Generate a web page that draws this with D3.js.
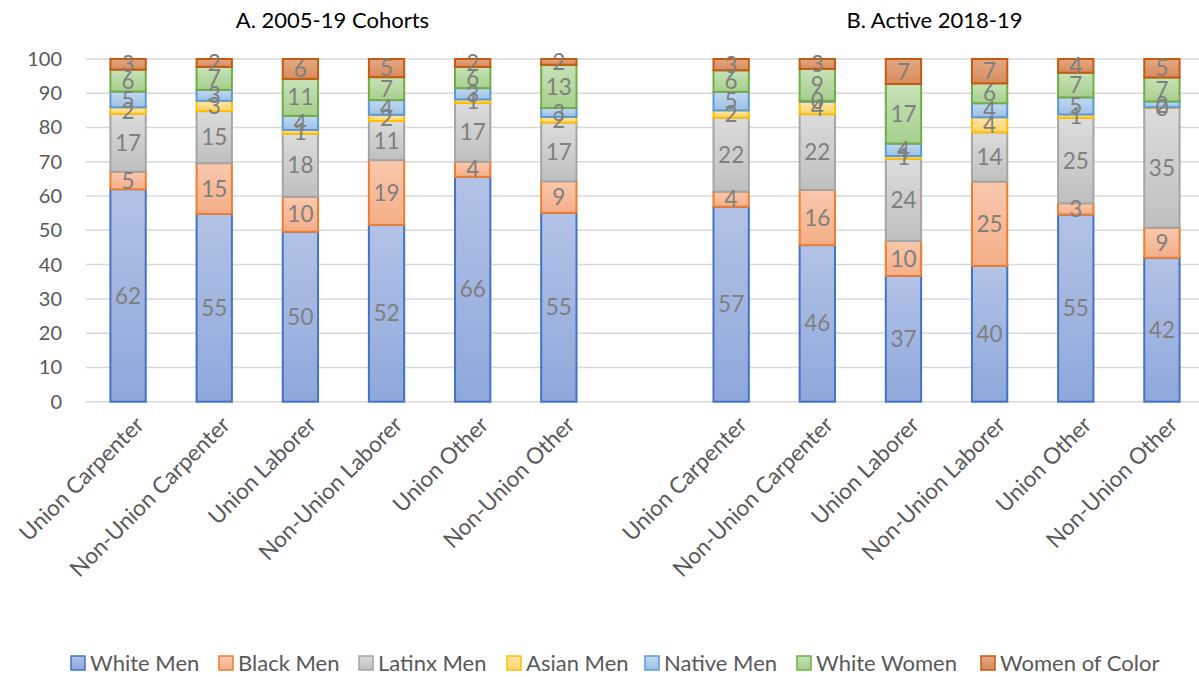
<!DOCTYPE html>
<html>
<head>
<meta charset="utf-8">
<script src="https://cdn.jsdelivr.net/npm/d3@7"></script>
<style>
  html, body { margin: 0; padding: 0; background: #fff; }
  svg { display: block; font-family: Lato, "Open Sans", sans-serif; }
</style>
</head>
<body>
<svg id="chart" width="1199" height="677"></svg>
<script>
// Workforce composition (%) by group, two panels of six categories each
const categories = ["Union Carpenter", "Non-Union Carpenter", "Union Laborer", "Non-Union Laborer", "Union Other", "Non-Union Other"];
const panelTitles = ["A. 2005-19 Cohorts", "B. Active 2018-19"];
const seriesNames = ["White Men", "Black Men", "Latinx Men", "Asian Men", "Native Men", "White Women", "Women of Color"];

// Panel A: 2005-19 cohorts, one array per series (in category order)
const cohortWhiteMen     = [62.0, 54.8, 49.6, 51.6, 65.6, 55.1];
const cohortBlackMen     = [5.1, 14.8, 10.2, 18.9, 4.4, 9.2];
const cohortLatinxMen    = [16.9, 15.2, 18.4, 11.4, 17.2, 17.2];
const cohortAsianMen     = [1.9, 3.0, 1.1, 1.8, 1.0, 1.6];
const cohortNativeMen    = [4.6, 3.2, 4.1, 4.3, 3.3, 2.6];
const cohortWhiteWomen   = [6.4, 6.7, 10.8, 6.7, 6.2, 12.6];
const cohortWomenOfColor = [3.1, 2.3, 5.8, 5.3, 2.3, 1.7];

// Panel B: active 2018-19
const activeWhiteMen     = [56.9, 45.7, 36.7, 39.6, 54.6, 42.0];
const activeBlackMen     = [4.4, 16.1, 10.2, 24.6, 3.3, 8.8];
const activeLatinxMen    = [21.6, 22.1, 24.0, 14.4, 24.9, 34.9];
const activeAsianMen     = [2.1, 3.6, 0.8, 4.4, 1.0, 0.2];
const activeNativeMen    = [5.4, 0.3, 3.6, 4.1, 5.0, 1.7];
const activeWhiteWomen   = [6.3, 9.3, 17.4, 5.8, 7.2, 7.0];
const activeWomenOfColor = [3.3, 2.9, 7.3, 7.1, 4.0, 5.4];

const yTicks = [0, 10, 20, 30, 40, 50, 60, 70, 80, 90, 100];

// Series styling: outline, and gradient from top to bottom of each segment
const seriesStyle = [
  { stroke: "#4472c4", top: "#b3c2e6", bottom: "#8ea8db" },
  { stroke: "#ed7d31", top: "#f9c9ad", bottom: "#f4ae88" },
  { stroke: "#a5a5a5", top: "#dcdcdc", bottom: "#bfbfbf" },
  { stroke: "#ffc000", top: "#ffe6a6", bottom: "#ffd46b" },
  { stroke: "#5b9bd5", top: "#c2d9f0", bottom: "#9dc1e6" },
  { stroke: "#70ad47", top: "#c8e2b8", bottom: "#a6cf8c" },
  { stroke: "#c55a11", top: "#e3a883", bottom: "#d88b5c" }
];

const panelA = [cohortWhiteMen, cohortBlackMen, cohortLatinxMen, cohortAsianMen, cohortNativeMen, cohortWhiteWomen, cohortWomenOfColor];
const panelB = [activeWhiteMen, activeBlackMen, activeLatinxMen, activeAsianMen, activeNativeMen, activeWhiteWomen, activeWomenOfColor];

// Build rows: six A columns, a blank spacer slot, six B columns
const rows = [];
categories.forEach((c, i) => {
  const r = { key: "A" + i, label: c };
  seriesNames.forEach((s, k) => r[s] = panelA[k][i]);
  rows.push(r);
});
const spacer = { key: "gap", label: "" };
seriesNames.forEach(s => spacer[s] = 0);
categories.forEach((c, i) => {
  const r = { key: "B" + i, label: c };
  seriesNames.forEach((s, k) => r[s] = panelB[k][i]);
  rows.push(r);
});
const slots = rows.slice(0, 6).concat([spacer], rows.slice(6));

const svg = d3.select("#chart");
const W = 1199;

const x = d3.scaleBand().domain(slots.map(d => d.key)).range([85, 1205]).paddingInner(0.59).paddingOuter(0.295);
const y = d3.scaleLinear().domain([0, 100]).range([401.7, 59]);

// gradients
const defs = svg.append("defs");
seriesStyle.forEach((st, i) => {
  const g = defs.append("linearGradient").attr("id", "grad" + i)
    .attr("x1", 0).attr("y1", 0).attr("x2", 0).attr("y2", 1);
  g.append("stop").attr("offset", "0%").attr("stop-color", st.top);
  g.append("stop").attr("offset", "100%").attr("stop-color", st.bottom);
});

// gridlines
svg.append("g").selectAll("line").data(yTicks).join("line")
  .attr("x1", 86).attr("x2", W)
  .attr("y1", d => y(d)).attr("y2", d => y(d))
  .attr("stroke", "#d9d9d9").attr("stroke-width", 1.5);

// y axis labels
const yAxis = d3.axisLeft(y).tickValues(yTicks).tickSize(0).tickPadding(0);
const yg = svg.append("g").attr("transform", "translate(62,0)").call(yAxis);
yg.select(".domain").remove();
yg.selectAll("text").attr("fill", "#595959").style("font-size", "20px").style("font-family", "Lato, sans-serif");

// stacked bars
const stack = d3.stack().keys(seriesNames);
const layers = stack(slots.filter(d => d.key !== "gap"));

const barG = svg.append("g");
layers.forEach((layer, k) => {
  barG.append("g").selectAll("rect").data(layer).join("rect")
    .attr("x", d => x(d.data.key))
    .attr("width", x.bandwidth())
    .attr("y", d => y(d[1]))
    .attr("height", d => Math.max(0, y(d[0]) - y(d[1])))
    .attr("fill", "url(#grad" + k + ")")
    .attr("stroke", seriesStyle[k].stroke)
    .attr("stroke-width", 2);
});

// value labels (rounded), drawn above all bars
const labelG = svg.append("g");
layers.forEach((layer, k) => {
  labelG.append("g").selectAll("text").data(layer).join("text")
    .attr("x", d => x(d.data.key) + x.bandwidth() / 2)
    .attr("y", d => (y(d[0]) + y(d[1])) / 2)
    .attr("dy", "0.36em")
    .attr("text-anchor", "middle")
    .attr("fill", "#7f7f7f")
    .style("font-size", "22.5px")
    .text(d => d3.format(".0f")(d[1] - d[0]));
});

// category labels, rotated
svg.append("g").selectAll("text").data(slots.filter(d => d.key !== "gap")).join("text")
  .attr("transform", d => `translate(${x(d.key) + x.bandwidth() / 2 + 6},${415}) rotate(-45)`)
  .attr("text-anchor", "end")
  .attr("dy", "0.7em")
  .attr("fill", "#595959")
  .style("font-size", "22.5px")
  .text(d => d.label);

// panel titles
const titleX = [
  (x("A0") + x("A5") + x.bandwidth()) / 2 - 11,
  (x("B0") + x("B5") + x.bandwidth()) / 2 - 12
];
svg.append("g").selectAll("text").data(panelTitles).join("text")
  .attr("x", (d, i) => titleX[i])
  .attr("y", 28)
  .attr("text-anchor", "middle")
  .attr("fill", "#000")
  .style("font-size", "22px")
  .text(d => d);

// legend
const legendX = [71, 219, 359, 507, 645, 797, 981];
const lg = svg.append("g").selectAll("g").data(seriesNames).join("g")
  .attr("transform", (d, i) => `translate(${legendX[i]},656)`);
lg.append("rect").attr("width", 14).attr("height", 14)
  .attr("fill", (d, i) => "url(#grad" + i + ")")
  .attr("stroke", (d, i) => seriesStyle[i].stroke).attr("stroke-width", 1.5);
lg.append("text").attr("x", 19).attr("y", 7).attr("dy", "0.36em")
  .attr("fill", "#595959").style("font-size", "22px")
  .text(d => d);
</script>
</body>
</html>
